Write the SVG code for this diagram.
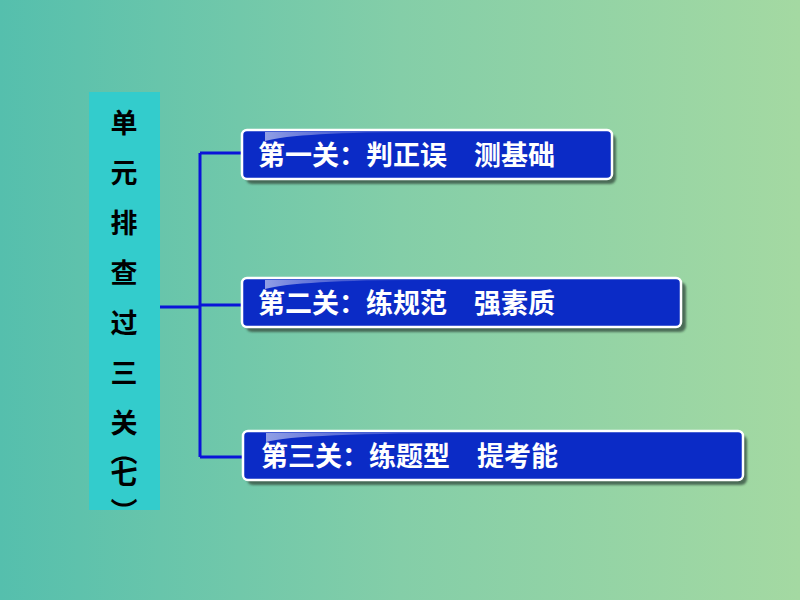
<svg xmlns="http://www.w3.org/2000/svg" width="800" height="600" viewBox="0 0 800 600">
<defs>
<linearGradient id="bg" x1="0" y1="0" x2="1" y2="0">
<stop offset="0" stop-color="#55BFAD"/>
<stop offset="0.5" stop-color="#84CEA8"/>
<stop offset="1" stop-color="#A4D9A2"/>
</linearGradient>
<linearGradient id="gloss" x1="0" y1="0" x2="1" y2="0">
<stop offset="0" stop-color="#FFFFFF" stop-opacity="0.55"/>
<stop offset="0.4" stop-color="#C8C8F0" stop-opacity="0.35"/>
<stop offset="1" stop-color="#8888E0" stop-opacity="0"/>
</linearGradient>
<filter id="sh" x="-5%" y="-20%" width="115%" height="150%">
<feGaussianBlur stdDeviation="1"/>
</filter>
<style>
.box{fill:#0B2BC6;stroke:#FFFFFF;stroke-width:2.5}
.shadow{fill:#3D5A48;opacity:0.85}
.lbl{font-family:"Noto Sans CJK SC","Noto Sans CJK JP",sans-serif;font-weight:bold;font-size:27px;fill:#FFFFFF}
.v{font-family:"Noto Sans CJK SC","Noto Sans CJK JP",sans-serif;font-weight:bold;font-size:27px;fill:#000000;text-anchor:middle}
.conn{stroke:#0A14D8;stroke-width:3;fill:none}
</style>
</defs>
<rect width="800" height="600" fill="url(#bg)"/>
<g id="title">
<rect x="89" y="92" width="71" height="418" fill="#33CCCC"/>
<text class="v" x="124" y="133">单</text>
<text class="v" x="124" y="183">元</text>
<text class="v" x="124" y="233">排</text>
<text class="v" x="124" y="283">查</text>
<text class="v" x="124" y="333">过</text>
<text class="v" x="124" y="383">三</text>
<text class="v" x="124" y="433">关</text>
<text class="v" x="124" y="462" transform="rotate(90 124 452)">（</text>
<text class="v" x="124" y="484">七</text>
<text class="v" x="124" y="521" transform="rotate(90 124 511)">）</text>
</g>
<g id="connectors">
<path class="conn" d="M160 307 H200"/>
<path class="conn" d="M200 153 V457"/>
<path class="conn" d="M200 153 H243"/>
<path class="conn" d="M200 305 H243"/>
<path class="conn" d="M200 457 H244"/>
</g>
<g id="n1">
<rect class="shadow" x="246" y="134" width="370" height="50" rx="6" filter="url(#sh)"/>
<rect class="box" x="242" y="130" width="370" height="49" rx="5"/>
<path d="M265 141 Q300 131 450 132 L265 132 Z" fill="url(#gloss)"/>
<text class="lbl" x="258" y="165">第一关：判正误　测基础</text>
</g>
<g id="n2">
<rect class="shadow" x="246" y="282" width="440" height="50" rx="6" filter="url(#sh)"/>
<rect class="box" x="242" y="278" width="439" height="49" rx="5"/>
<path d="M265 289 Q300 279 450 280 L265 280 Z" fill="url(#gloss)"/>
<text class="lbl" x="258" y="313">第二关：练规范　强素质</text>
</g>
<g id="n3">
<rect class="shadow" x="247" y="435" width="500" height="50" rx="6" filter="url(#sh)"/>
<rect class="box" x="243" y="431" width="500" height="49" rx="5"/>
<path d="M266 442 Q300 432 520 433 L266 433 Z" fill="url(#gloss)"/>
<text class="lbl" x="261" y="466">第三关：练题型　提考能</text>
</g>
</svg>
